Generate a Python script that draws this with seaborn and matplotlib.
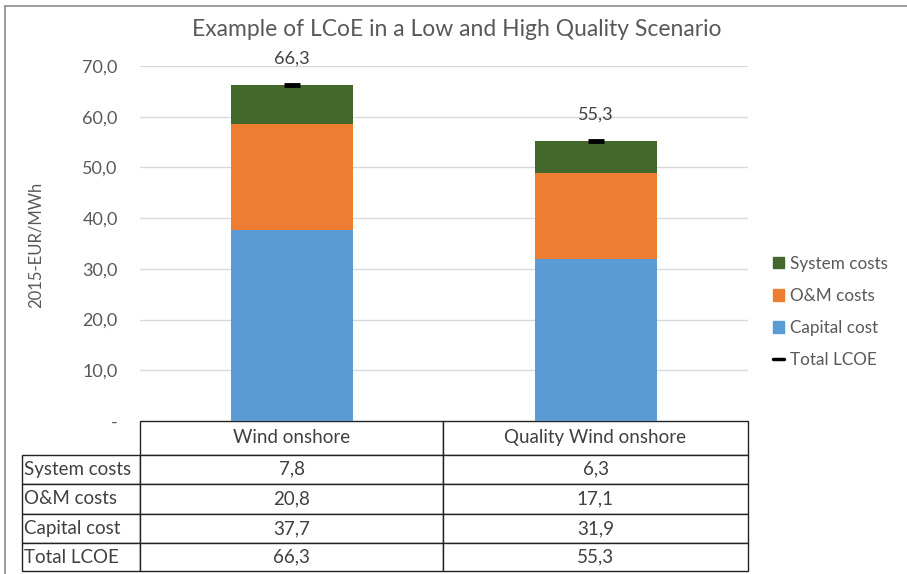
import pandas as pd
import seaborn as sns
import matplotlib.pyplot as plt
from matplotlib.patches import Patch
from matplotlib.lines import Line2D
from matplotlib.table import Table

categories = ["Wind onshore", "Quality Wind onshore"]
capital_cost = [37.7, 31.9]
om_costs = [20.8, 17.1]
system_costs = [7.8, 6.3]
total_lcoe = [66.3, 55.3]
row_names = ["System costs", "O&M costs", "Capital cost", "Total LCOE"]

COLORS = {"System costs": "#43682B", "O&M costs": "#ED7D31", "Capital cost": "#5B9BD5"}
TEXT = "#595959"


def fmt(v):
    return f"{v:.1f}".replace(".", ",")


def main():
    sns.set_theme(style="white")
    plt.rcParams["font.family"] = ["Lato", "DejaVu Sans"]

    df = pd.DataFrame({"category": categories,
                       "capital": capital_cost,
                       "om": om_costs,
                       "system": system_costs})
    # cumulative heights, drawn back to front to stack
    df["cum_om"] = df["capital"] + df["om"]
    df["cum_sys"] = df["cum_om"] + df["system"]

    fig = plt.figure(figsize=(9.07, 5.74), dpi=100)
    W, H = 907, 574
    ax = fig.add_axes([140 / W, 1 - 421 / H, 608 / W, 355 / H])

    for col, name in [("cum_sys", "System costs"), ("cum_om", "O&M costs"),
                      ("capital", "Capital cost")]:
        sns.barplot(data=df, x="category", y=col, color=COLORS[name], width=0.4,
                    saturation=1, errorbar=None, ax=ax, zorder=2, linewidth=0)

    # total LCOE marker and label
    ax.plot(range(len(categories)), total_lcoe, ls="none", marker="_",
            ms=12, mew=3.5, color="black", zorder=3)
    for i, t in enumerate(total_lcoe):
        ax.annotate(fmt(t), (i, t), xytext=(0, 19), textcoords="offset points",
                    ha="center", va="center", fontsize=13, color="#404040")

    ax.set_ylim(0, 70)
    ax.set_xlim(-0.5, 1.5)
    ticks = list(range(0, 71, 10))
    ax.set_yticks(ticks)
    ax.set_yticklabels(["-" if t == 0 else fmt(t) for t in ticks])
    ax.tick_params(axis="y", length=0, labelsize=13, labelcolor=TEXT, pad=16)
    ax.tick_params(axis="x", labelbottom=False, length=0)
    ax.set_xlabel("")
    ax.set_ylabel("")
    ax.yaxis.grid(True, color="#D9D9D9", lw=1)
    ax.set_axisbelow(True)
    for s in ax.spines.values():
        s.set_visible(False)

    # data table under the plot
    col_w = [118, 303, 305]
    row_h = [34, 30, 30, 30, 28]
    tbl = Table(ax, bbox=[-118 / 608, -150 / 355, 726 / 608, 150 / 355])
    for j, cat in enumerate(categories):
        tbl.add_cell(0, j + 1, col_w[j + 1], row_h[0], text=cat, loc="center")
    values = [system_costs, om_costs, capital_cost, total_lcoe]
    for i, (name, vals) in enumerate(zip(row_names, values)):
        c = tbl.add_cell(i + 1, 0, col_w[0], row_h[i + 1], text=name, loc="left")
        c.PAD = 0.02
        for j, v in enumerate(vals):
            tbl.add_cell(i + 1, j + 1, col_w[j + 1], row_h[i + 1], text=fmt(v), loc="center")
    tbl.auto_set_font_size(False)
    tbl.set_fontsize(13.5)
    for cell in tbl.get_celld().values():
        cell.set_edgecolor("#222222")
        cell.set_linewidth(1)
        cell.get_text().set_color("#404040")
    ax.add_table(tbl)

    # legend
    handles = [Patch(color=COLORS["System costs"]), Patch(color=COLORS["O&M costs"]),
               Patch(color=COLORS["Capital cost"]), Line2D([], [], color="black", lw=2.5)]
    fig.legend(handles, ["System costs", "O&M costs", "Capital cost", "Total LCOE"],
               loc="center left", bbox_to_anchor=(758 / W, 1 - 312 / H), frameon=False,
               fontsize=12.3, handlelength=0.65, handleheight=0.65, handletextpad=0.35,
               labelspacing=0.95, labelcolor=TEXT)

    fig.text(457 / W, 1 - 30 / H, "Example of LCoE in a Low and High Quality Scenario",
             ha="center", va="center", fontsize=16.5, color=TEXT)
    fig.text(36 / W, 1 - 245 / H, "2015-EUR/MWh", rotation=90, ha="center",
             va="center", fontsize=12, color=TEXT)

    # outer chart border (left and top visible)
    fig.add_artist(Line2D([5 / W, 5 / W], [0, 1 - 6 / H], color="#8C8C8C", lw=1.2))
    fig.add_artist(Line2D([5 / W, 1], [1 - 6 / H, 1 - 6 / H], color="#8C8C8C", lw=1.2))

    fig.savefig("out.png", dpi=100)


if __name__ == "__main__":
    main()
